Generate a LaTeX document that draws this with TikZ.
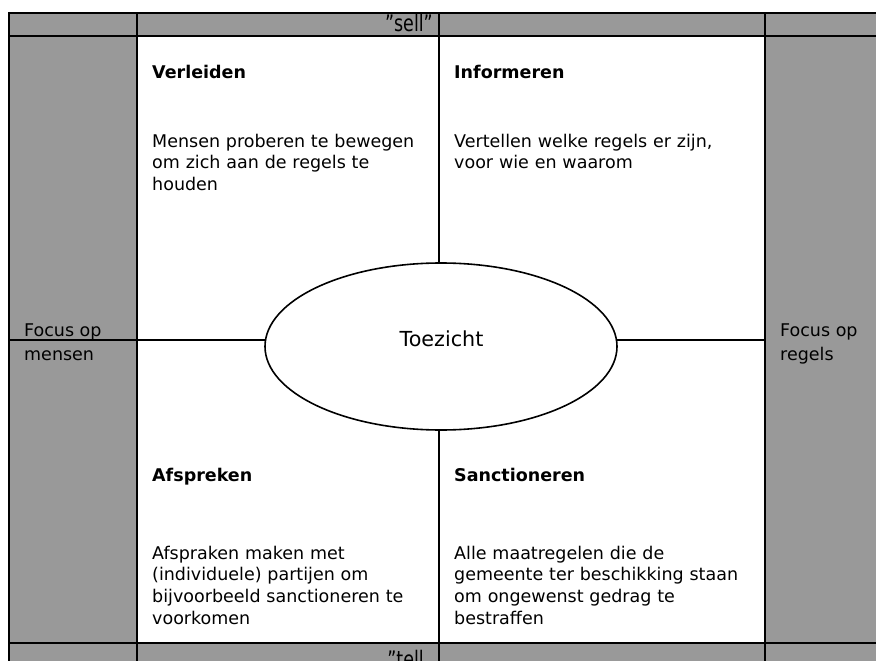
\documentclass[tikz,border=0pt]{standalone}
\usepackage{fontspec}
\setmainfont{DejaVu Sans}
\usetikzlibrary{shapes.geometric}
\definecolor{cellgray}{RGB}{153,153,153}
\begin{document}
\begin{tikzpicture}[x=1pt,y=-1pt,
  gridline/.style={line width=2pt,black},
  bodytext/.style={anchor=base west,inner sep=0pt,text width=300pt,align=left,font=\fontsize{17.5}{21.8}\selectfont},
  headtext/.style={anchor=base west,inner sep=0pt,font=\fontsize{17.5}{21}\selectfont\bfseries},
  sidetext/.style={anchor=base west,inner sep=0pt,font=\fontsize{17.5}{21}\selectfont},
  bartext/.style={anchor=base east,inner sep=0pt,font=\fontsize{17.5}{21}\selectfont}]
\useasboundingbox (0,0) rectangle (876,661);
\clip (0,0) rectangle (876,661);
\fill[white] (0,0) rectangle (876,661);
\fill[cellgray] (9,13) rectangle (876,661);
\fill[white] (137,36) rectangle (765,643);
% grid lines
\draw[gridline] (8,13) -- (876,13);
\draw[gridline] (9,36) -- (876,36);
\draw[gridline] (9,643) -- (876,643);
\draw[gridline] (9,12) -- (9,661);
\draw[gridline] (137,13) -- (137,661);
\draw[gridline] (765,13) -- (765,661);
\draw[gridline] (439,13) -- (439,661);
\draw[gridline] (9,340) -- (765,340);
% centre ellipse
\node[draw,ellipse,line width=1.6pt,fill=white,minimum width=352pt,minimum height=167pt,inner sep=0pt] (tz) at (441,346.5) {};
\node[anchor=base,inner sep=0pt,font=\fontsize{20.7}{24}\selectfont] (tzl) at (441.5,346) {Toezicht};
% bars
\node[bartext] (sell) at (433,32) {\scalebox{1}[1.3]{"sell"}};
\node[bartext] (tell) at (424,667) {\scalebox{1}[1.3]{"tell}};
% side labels
\node[sidetext] (lfo) at (24,336) {Focus op};
\node[sidetext] (lme) at (24,360) {mensen};
\node[sidetext] (rfo) at (780,336) {Focus op};
\node[sidetext] (rre) at (780,360) {regels};
% quadrants
\node[headtext] (h1) at (152,79) {Verleiden};
\node[bodytext] (b1) at (152,147) {Mensen proberen te bewegen\\om zich aan de regels te\\houden};
\node[headtext] (h2) at (454,79) {Informeren};
\node[bodytext] (b2) at (454,147) {Vertellen welke regels er zijn,\\voor wie en waarom};
\node[headtext] (h3) at (152,481) {Afspreken};
\node[bodytext] (b3) at (152,559) {Afspraken maken met\\(individuele) partijen om\\bijvoorbeeld sanctioneren te\\voorkomen};
\node[headtext] (h4) at (454,481) {Sanctioneren};
\node[bodytext] (b4) at (454,559) {Alle maatregelen die de\\gemeente ter beschikking staan\\om ongewenst gedrag te\\bestraffen};
\end{tikzpicture}
\end{document}
